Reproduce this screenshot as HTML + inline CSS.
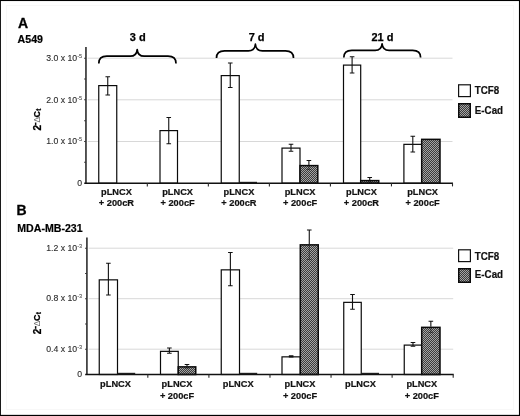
<!DOCTYPE html>
<html><head><meta charset="utf-8"><title>Figure</title>
<style>
html,body{margin:0;padding:0;background:#fff;}
body{width:520px;height:416px;overflow:hidden;}
svg{display:block;font-family:"Liberation Sans",Arial,Helvetica,sans-serif;}
.yl{font-size:8.7px;fill:#2c2c2c;stroke:#2c2c2c;stroke-width:0.12px;}
.sup{font-size:5.6px;stroke:none;}
.xl{font-size:9.5px;font-weight:bold;fill:#111;stroke:#111;stroke-width:0.2px;}
.lg{font-size:9.8px;font-weight:bold;fill:#111;stroke:#111;stroke-width:0.2px;}
.hd{font-size:14px;font-weight:bold;fill:#000;stroke:#000;stroke-width:0.3px;}
.sh{font-size:10.6px;font-weight:bold;fill:#000;stroke:#000;stroke-width:0.2px;}
.dl{font-size:11px;font-weight:bold;fill:#000;stroke:#000;stroke-width:0.25px;}
.yt{font-size:10px;font-weight:bold;fill:#000;stroke:#000;stroke-width:0.25px;}
.ytd{stroke:none;}
.yts{font-size:9.5px;}
.ytd{font-size:8.2px;font-weight:normal;fill:#666;}
.ytc{font-size:9px;}
.ytsub{font-size:6.5px;}
</style></head><body>
<svg width="520" height="416" viewBox="0 0 520 416">
<defs>
<pattern id="hatch" width="2" height="2" patternUnits="userSpaceOnUse">
<rect width="2" height="2" fill="#3c3c3c"/>
<rect x="0" y="0" width="1" height="1" fill="#a4a4a4"/>
<rect x="1" y="1" width="1" height="1" fill="#a4a4a4"/>
</pattern>
</defs>
<rect x="0" y="0" width="520" height="416" fill="#fff"/>
<text x="17.9" y="27.9" class="hd">A</text>
<text x="17.6" y="43" class="sh">A549</text>
<text x="16.6" y="215" class="hd">B</text>
<text x="17.3" y="232" class="sh">MDA-MB-231</text>
<text x="137.8" y="40.8" text-anchor="middle" class="dl">3 d</text>
<text x="256.6" y="40.8" text-anchor="middle" class="dl">7 d</text>
<text x="382.4" y="40.7" text-anchor="middle" class="dl">21 d</text>
<line x1="87.75" x2="452.5" y1="58.2" y2="58.2" stroke="#d8d8d8" stroke-width="1"/>
<line x1="87.75" x2="452.5" y1="99.8" y2="99.8" stroke="#d8d8d8" stroke-width="1"/>
<line x1="87.75" x2="452.5" y1="141.5" y2="141.5" stroke="#d8d8d8" stroke-width="1"/>
<rect x="98.75" y="85.60" width="18.00" height="97.60" fill="#fff" stroke="#0a0a0a" stroke-width="1.2"/>
<path d="M107.75 76.75V95M105.45 76.75h4.6M105.45 95h4.6" stroke="#111" stroke-width="1.1" fill="none"/>
<rect x="160.00" y="130.60" width="17.50" height="52.60" fill="#fff" stroke="#0a0a0a" stroke-width="1.2"/>
<path d="M168.75 117.5V143.75M166.45 117.5h4.6M166.45 143.75h4.6" stroke="#111" stroke-width="1.1" fill="none"/>
<rect x="221.25" y="75.60" width="18.00" height="107.60" fill="#fff" stroke="#0a0a0a" stroke-width="1.2"/>
<line x1="239.25" x2="257.00" y1="182.4" y2="182.4" stroke="#222" stroke-width="1.2"/>
<path d="M230.25 63V87.5M227.95 63h4.6M227.95 87.5h4.6" stroke="#111" stroke-width="1.1" fill="none"/>
<rect x="282.00" y="148.10" width="18.00" height="35.10" fill="#fff" stroke="#0a0a0a" stroke-width="1.2"/>
<rect x="300.00" y="165.60" width="17.80" height="17.60" fill="url(#hatch)" stroke="#0a0a0a" stroke-width="1.5"/>
<path d="M291.00 144.25V151.25M288.70 144.25h4.6M288.70 151.25h4.6" stroke="#111" stroke-width="1.1" fill="none"/>
<path d="M308.90 160.5V165M306.60 160.5h4.6" stroke="#111" stroke-width="1.1" fill="none"/>
<path d="M308.90 166V169.5M306.60 169.5h4.6" stroke="#000" stroke-width="1.1" fill="none" opacity="0.45"/>
<rect x="343.50" y="65.10" width="17.20" height="118.10" fill="#fff" stroke="#0a0a0a" stroke-width="1.2"/>
<rect x="360.70" y="180.60" width="18.05" height="2.60" fill="url(#hatch)" stroke="#0a0a0a" stroke-width="1.5"/>
<path d="M352.10 56.75V73M349.80 56.75h4.6M349.80 73h4.6" stroke="#111" stroke-width="1.1" fill="none"/>
<path d="M369.73 177.5V180M367.43 177.5h4.6" stroke="#111" stroke-width="1.1" fill="none"/>
<path d="M369.73 181V182M367.43 182h4.6" stroke="#000" stroke-width="1.1" fill="none" opacity="0.45"/>
<rect x="403.90" y="144.35" width="17.80" height="38.85" fill="#fff" stroke="#0a0a0a" stroke-width="1.2"/>
<rect x="421.70" y="139.35" width="18.30" height="43.85" fill="url(#hatch)" stroke="#0a0a0a" stroke-width="1.5"/>
<path d="M412.80 136.25V152M410.50 136.25h4.6M410.50 152h4.6" stroke="#111" stroke-width="1.1" fill="none"/>
<line x1="85.95" x2="85.95" y1="46.9" y2="183.79999999999998" stroke="#444" stroke-width="1.8"/>
<line x1="84.25" x2="453.0" y1="183.2" y2="183.2" stroke="#111" stroke-width="1.4"/>
<line x1="84.15" x2="85.95" y1="58.2" y2="58.2" stroke="#333" stroke-width="1.1"/>
<line x1="84.15" x2="85.95" y1="79.0" y2="79.0" stroke="#333" stroke-width="1.1"/>
<line x1="84.15" x2="85.95" y1="99.8" y2="99.8" stroke="#333" stroke-width="1.1"/>
<line x1="84.15" x2="85.95" y1="120.7" y2="120.7" stroke="#333" stroke-width="1.1"/>
<line x1="84.15" x2="85.95" y1="141.5" y2="141.5" stroke="#333" stroke-width="1.1"/>
<line x1="84.15" x2="85.95" y1="162.3" y2="162.3" stroke="#333" stroke-width="1.1"/>
<line x1="147.31" x2="147.31" y1="183.2" y2="186.39999999999998" stroke="#2a2a2a" stroke-width="1.1"/>
<line x1="208.35" x2="208.35" y1="183.2" y2="186.39999999999998" stroke="#2a2a2a" stroke-width="1.1"/>
<line x1="269.38" x2="269.38" y1="183.2" y2="186.39999999999998" stroke="#2a2a2a" stroke-width="1.1"/>
<line x1="330.42" x2="330.42" y1="183.2" y2="186.39999999999998" stroke="#2a2a2a" stroke-width="1.1"/>
<line x1="391.46" x2="391.46" y1="183.2" y2="186.39999999999998" stroke="#2a2a2a" stroke-width="1.1"/>
<line x1="452.50" x2="452.50" y1="183.2" y2="186.39999999999998" stroke="#2a2a2a" stroke-width="1.1"/>
<text x="82.2" y="60.70" text-anchor="end" class="yl">3.0 x 10<tspan dy="-3" class="sup">-5</tspan></text>
<text x="82.2" y="102.50" text-anchor="end" class="yl">2.0 x 10<tspan dy="-3" class="sup">-5</tspan></text>
<text x="82.2" y="144.20" text-anchor="end" class="yl">1.0 x 10<tspan dy="-3" class="sup">-5</tspan></text>
<text x="82.2" y="185.80" text-anchor="end" class="yl">0</text>
<text transform="translate(116.40,194.5) scale(0.975,1.05)" text-anchor="middle" class="xl">pLNCX</text>
<text transform="translate(116.40,205.8) scale(0.975,1.05)" text-anchor="middle" class="xl">+ 200cR</text>
<text transform="translate(177.60,194.5) scale(0.975,1.05)" text-anchor="middle" class="xl">pLNCX</text>
<text transform="translate(177.60,205.8) scale(0.975,1.05)" text-anchor="middle" class="xl">+ 200cF</text>
<text transform="translate(238.90,194.5) scale(0.975,1.05)" text-anchor="middle" class="xl">pLNCX</text>
<text transform="translate(238.90,205.8) scale(0.975,1.05)" text-anchor="middle" class="xl">+ 200cR</text>
<text transform="translate(300.10,194.5) scale(0.975,1.05)" text-anchor="middle" class="xl">pLNCX</text>
<text transform="translate(300.10,205.8) scale(0.975,1.05)" text-anchor="middle" class="xl">+ 200cF</text>
<text transform="translate(361.40,194.5) scale(0.975,1.05)" text-anchor="middle" class="xl">pLNCX</text>
<text transform="translate(361.40,205.8) scale(0.975,1.05)" text-anchor="middle" class="xl">+ 200cR</text>
<text transform="translate(422.60,194.5) scale(0.975,1.05)" text-anchor="middle" class="xl">pLNCX</text>
<text transform="translate(422.60,205.8) scale(0.975,1.05)" text-anchor="middle" class="xl">+ 200cF</text>
<rect x="458.6" y="84.80" width="11.8" height="11.8" fill="#fff" stroke="#111" stroke-width="1.2"/>
<rect x="458.75" y="103.75" width="11.5" height="13.5" fill="url(#hatch)" stroke="#0a0a0a" stroke-width="1.5"/>
<text transform="translate(474.8,94.3) scale(1,1.04)" class="lg">TCF8</text>
<text transform="translate(474.8,113.7) scale(1,1.04)" class="lg">E-Cad</text>
<g transform="translate(40.8,130.6) rotate(-90)"><text x="0" y="0" class="yt">2<tspan x="5.2" y="-3.2" class="yts">-</tspan><tspan x="8.0" y="-1.0" class="ytd">Δ</tspan><tspan x="13.2" y="-1.0" class="ytc">C</tspan><tspan x="19.9" y="0.6" class="ytsub">t</tspan></text></g>
<path d="M98.8 63.400000000000006 C98.8 58.7 101.3 56.2 106.8 56.2 H130.2 C134.7 56.2 136.89999999999998 53.7 137.2 49.6 C137.5 53.7 139.7 56.2 144.2 56.2 H168 C173.5 56.2 176 58.7 176 63.400000000000006" fill="none" stroke="#000" stroke-width="1.7" stroke-linejoin="round"/>
<path d="M216.5 58.0 C216.5 53.3 219.0 50.8 224.5 50.8 H248.4 C252.9 50.8 255.1 48.3 255.4 44.199999999999996 C255.70000000000002 48.3 257.9 50.8 262.4 50.8 H285.5 C291.0 50.8 293.5 53.3 293.5 58.0" fill="none" stroke="#000" stroke-width="1.7" stroke-linejoin="round"/>
<path d="M343.8 57.6 C343.8 52.9 346.3 50.4 351.8 50.4 H375.1 C379.6 50.4 381.8 47.9 382.1 43.8 C382.40000000000003 47.9 384.6 50.4 389.1 50.4 H412.6 C418.1 50.4 420.6 52.9 420.6 57.6" fill="none" stroke="#000" stroke-width="1.7" stroke-linejoin="round"/>
<line x1="88.7" x2="453.2" y1="248.2" y2="248.2" stroke="#d8d8d8" stroke-width="1"/>
<line x1="88.7" x2="453.2" y1="298.7" y2="298.7" stroke="#d8d8d8" stroke-width="1"/>
<line x1="88.7" x2="453.2" y1="349.2" y2="349.2" stroke="#d8d8d8" stroke-width="1"/>
<rect x="99.25" y="279.85" width="18.25" height="94.65" fill="#fff" stroke="#0a0a0a" stroke-width="1.2"/>
<line x1="117.50" x2="135.20" y1="373.4" y2="373.4" stroke="#222" stroke-width="1.2"/>
<path d="M108.38 263.25V295M106.08 263.25h4.6M106.08 295h4.6" stroke="#111" stroke-width="1.1" fill="none"/>
<rect x="160.50" y="351.35" width="17.75" height="23.15" fill="#fff" stroke="#0a0a0a" stroke-width="1.2"/>
<rect x="178.25" y="366.85" width="17.50" height="7.65" fill="url(#hatch)" stroke="#0a0a0a" stroke-width="1.5"/>
<path d="M169.38 348V353.25M167.07 348h4.6M167.07 353.25h4.6" stroke="#111" stroke-width="1.1" fill="none"/>
<path d="M187.00 364.5V366.25M184.70 364.5h4.6" stroke="#111" stroke-width="1.1" fill="none"/>
<path d="M187.00 367.25V368M184.70 368h4.6" stroke="#000" stroke-width="1.1" fill="none" opacity="0.45"/>
<rect x="221.25" y="269.85" width="18.25" height="104.65" fill="#fff" stroke="#0a0a0a" stroke-width="1.2"/>
<line x1="239.50" x2="257.20" y1="373.4" y2="373.4" stroke="#222" stroke-width="1.2"/>
<path d="M230.38 252.5V285.75M228.07 252.5h4.6M228.07 285.75h4.6" stroke="#111" stroke-width="1.1" fill="none"/>
<rect x="282.00" y="356.85" width="18.30" height="17.65" fill="#fff" stroke="#0a0a0a" stroke-width="1.2"/>
<rect x="300.30" y="244.85" width="17.95" height="129.65" fill="url(#hatch)" stroke="#0a0a0a" stroke-width="1.5"/>
<path d="M291.15 355.7V356.9M288.85 355.7h4.6M288.85 356.9h4.6" stroke="#111" stroke-width="1.1" fill="none"/>
<path d="M309.27 230V244.25M306.97 230h4.6" stroke="#111" stroke-width="1.1" fill="none"/>
<path d="M309.27 245.25V259.5M306.97 259.5h4.6" stroke="#000" stroke-width="1.1" fill="none" opacity="0.45"/>
<rect x="343.75" y="302.35" width="17.50" height="72.15" fill="#fff" stroke="#0a0a0a" stroke-width="1.2"/>
<line x1="361.25" x2="379.00" y1="373.4" y2="373.4" stroke="#222" stroke-width="1.2"/>
<path d="M352.50 294.5V309.25M350.20 294.5h4.6M350.20 309.25h4.6" stroke="#111" stroke-width="1.1" fill="none"/>
<rect x="404.25" y="345.10" width="17.45" height="29.40" fill="#fff" stroke="#0a0a0a" stroke-width="1.2"/>
<rect x="421.70" y="327.35" width="18.30" height="47.15" fill="url(#hatch)" stroke="#0a0a0a" stroke-width="1.5"/>
<path d="M412.98 342.5V346.25M410.68 342.5h4.6M410.68 346.25h4.6" stroke="#111" stroke-width="1.1" fill="none"/>
<path d="M430.85 321.25V326.75M428.55 321.25h4.6" stroke="#111" stroke-width="1.1" fill="none"/>
<path d="M430.85 327.75V332.5M428.55 332.5h4.6" stroke="#000" stroke-width="1.1" fill="none" opacity="0.45"/>
<line x1="86.9" x2="86.9" y1="237.5" y2="375.1" stroke="#444" stroke-width="1.8"/>
<line x1="85.2" x2="453.7" y1="374.5" y2="374.5" stroke="#111" stroke-width="1.4"/>
<line x1="85.10000000000001" x2="86.9" y1="248.2" y2="248.2" stroke="#333" stroke-width="1.1"/>
<line x1="85.10000000000001" x2="86.9" y1="273.5" y2="273.5" stroke="#333" stroke-width="1.1"/>
<line x1="85.10000000000001" x2="86.9" y1="298.7" y2="298.7" stroke="#333" stroke-width="1.1"/>
<line x1="85.10000000000001" x2="86.9" y1="324" y2="324" stroke="#333" stroke-width="1.1"/>
<line x1="85.10000000000001" x2="86.9" y1="349.2" y2="349.2" stroke="#333" stroke-width="1.1"/>
<line x1="147.82" x2="147.82" y1="374.5" y2="377.7" stroke="#2a2a2a" stroke-width="1.1"/>
<line x1="208.90" x2="208.90" y1="374.5" y2="377.7" stroke="#2a2a2a" stroke-width="1.1"/>
<line x1="269.98" x2="269.98" y1="374.5" y2="377.7" stroke="#2a2a2a" stroke-width="1.1"/>
<line x1="331.05" x2="331.05" y1="374.5" y2="377.7" stroke="#2a2a2a" stroke-width="1.1"/>
<line x1="392.12" x2="392.12" y1="374.5" y2="377.7" stroke="#2a2a2a" stroke-width="1.1"/>
<line x1="453.20" x2="453.20" y1="374.5" y2="377.7" stroke="#2a2a2a" stroke-width="1.1"/>
<text x="82.2" y="250.90" text-anchor="end" class="yl">1.2 x 10<tspan dy="-3" class="sup">-3</tspan></text>
<text x="82.2" y="301.40" text-anchor="end" class="yl">0.8 x 10<tspan dy="-3" class="sup">-3</tspan></text>
<text x="82.2" y="351.90" text-anchor="end" class="yl">0.4 x 10<tspan dy="-3" class="sup">-3</tspan></text>
<text x="82.2" y="377.20" text-anchor="end" class="yl">0</text>
<text transform="translate(115.50,387.3) scale(0.975,1.05)" text-anchor="middle" class="xl">pLNCX</text>
<text transform="translate(177.00,387.3) scale(0.975,1.05)" text-anchor="middle" class="xl">pLNCX</text>
<text transform="translate(177.00,398.6) scale(0.975,1.05)" text-anchor="middle" class="xl">+ 200cF</text>
<text transform="translate(238.20,387.3) scale(0.975,1.05)" text-anchor="middle" class="xl">pLNCX</text>
<text transform="translate(300.00,387.3) scale(0.975,1.05)" text-anchor="middle" class="xl">pLNCX</text>
<text transform="translate(300.00,398.6) scale(0.975,1.05)" text-anchor="middle" class="xl">+ 200cF</text>
<text transform="translate(360.40,387.3) scale(0.975,1.05)" text-anchor="middle" class="xl">pLNCX</text>
<text transform="translate(421.80,387.3) scale(0.975,1.05)" text-anchor="middle" class="xl">pLNCX</text>
<text transform="translate(421.80,398.6) scale(0.975,1.05)" text-anchor="middle" class="xl">+ 200cF</text>
<rect x="458.6" y="249.80" width="11.8" height="11.8" fill="#fff" stroke="#111" stroke-width="1.2"/>
<rect x="458.75" y="268.75" width="11.5" height="13.5" fill="url(#hatch)" stroke="#0a0a0a" stroke-width="1.5"/>
<text transform="translate(474.8,259.7) scale(1,1.04)" class="lg">TCF8</text>
<text transform="translate(474.8,278.2) scale(1,1.04)" class="lg">E-Cad</text>
<g transform="translate(40.8,334.2) rotate(-90)"><text x="0" y="0" class="yt">2<tspan x="5.2" y="-3.2" class="yts">-</tspan><tspan x="8.0" y="-1.0" class="ytd">Δ</tspan><tspan x="13.2" y="-1.0" class="ytc">C</tspan><tspan x="19.9" y="0.6" class="ytsub">t</tspan></text></g>
<rect x="6.5" y="5.5" width="507" height="404" fill="none" stroke="#f8f8f8" stroke-width="1"/>
<rect x="0" y="0" width="520" height="1.05" fill="#000"/>
<rect x="0" y="414.85" width="520" height="1.15" fill="#000"/>
<rect x="0" y="0" width="0.9" height="416" fill="#000"/>
<rect x="518.95" y="0" width="1.05" height="416" fill="#000"/>
</svg>
</body></html>
